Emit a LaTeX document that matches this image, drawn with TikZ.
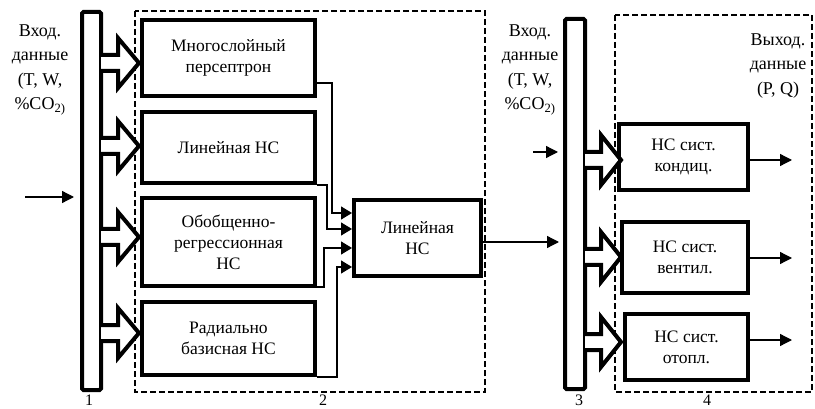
\documentclass[tikz,border=0pt]{standalone}
\usepackage{fontspec}
\setmainfont{Liberation Serif}
\usetikzlibrary{arrows.meta,calc}
\begin{document}
\begin{tikzpicture}[x=1pt,y=-1pt,
  txt/.style={font=\fontsize{18}{24.5}\selectfont, align=center, inner sep=0pt},
  box/.style={draw, line width=4pt, fill=white, align=center, inner sep=0pt,
    font=\fontsize{17.5}{21}\selectfont},
  bus/.style={draw, line width=4pt, fill=white, rounded corners=1.5pt, inner sep=0pt},
  grp/.style={draw, line width=2pt, dash pattern=on 6pt off 3pt},
  fat/.style={draw, line width=4pt, fill=white, line join=miter, miter limit=20},
  conn/.style={line width=1.3pt},
  tip/.style={conn, -{Triangle[length=11pt,width=13pt]}},
  otip/.style={conn, -{Triangle[length=12pt,width=12pt]}}
]
\useasboundingbox (0,0) rectangle (815,409);
% group frames
\draw[grp] (135,11) rectangle (485,392);
\draw[grp] (615,15) rectangle (812,392);
% buses
\node[bus, minimum width=19pt, minimum height=378pt] (bus1) at (91.5,201) {};
\node[bus, minimum width=20pt, minimum height=370pt] (bus3) at (575,204) {};
% boxes module 2
\node[box, minimum width=173pt, minimum height=76pt] (A) at (228.5,58) {Многослойный\\персептрон};
\node[box, minimum width=173pt, minimum height=71pt] (B) at (228.5,147.5) {Линейная НС};
\node[box, minimum width=173pt, minimum height=88pt] (C) at (228.5,242) {Обобщенно-\\регрессионная\\НС};
\node[box, minimum width=173pt, minimum height=73pt] (D) at (228.5,338.5) {Радиально\\базисная НС};
\node[box, minimum width=127pt, minimum height=76pt] (E) at (417.5,238) {Линейная\\НС};
% boxes module 4
\node[box, minimum width=129pt, minimum height=66pt] (K) at (683.5,157) {НС сист.\\кондиц.};
\node[box, minimum width=126pt, minimum height=71pt] (V) at (685,257.5) {НС сист.\\вентил.};
\node[box, minimum width=123pt, minimum height=66pt] (O) at (686.5,347) {НС сист.\\отопл.};
% fat arrows from bus 1
\foreach \yc in {63,146,237,333}{
  \draw[fat] (101,\yc-8) -- (118,\yc-8) -- (118,\yc-25) -- (139,\yc) -- (118,\yc+25) -- (118,\yc+8) -- (101,\yc+8);
}
% fat arrows from bus 3
\foreach \yc in {160,257,342}{
  \draw[fat] (585,\yc-8) -- (601,\yc-8) -- (601,\yc-25) -- (621,\yc) -- (601,\yc+25) -- (601,\yc+8) -- (585,\yc+8);
}
% connectors to E
\draw[tip] (A.east |- 0,83) -| (332,213) -- (E.west |- 0,213);
\draw[tip] (B.east |- 0,185) -| (327,229) -- (E.west |- 0,229);
\draw[tip] (C.east |- 0,287) -| (324,248) -- (E.west |- 0,248);
\draw[tip] (D.east |- 0,377) -| (337,267) -- (E.west |- 0,267);
% E to bus 3
\coordinate (e3) at (559,242);
\draw[otip] (E.east |- 0,242) -- (e3);
% inputs
\coordinate (in1s) at (25,197);
\coordinate (in1e) at (74,197);
\draw[otip] (in1s) -- (in1e);
\coordinate (in3s) at (533,152);
\coordinate (in3e) at (558,152);
\draw[otip] (in3s) -- (in3e);
% outputs
\coordinate (oK) at (792,160);
\coordinate (oV) at (792,258);
\coordinate (oO) at (792,340);
\draw[otip] (K.east |- oK) -- (oK);
\draw[otip] (V.east |- oV) -- (oV);
\draw[otip] (O.east |- oO) -- (oO);
% labels
\node[txt] (lin1) at (40,70) {Вход.\\данные\\(T, W,\\\%CO\textsubscript{2)}};
\node[txt] (lin3) at (530,70) {Вход.\\данные\\(T, W,\\\%CO\textsubscript{2)}};
\node[txt] (lout) at (778,66) {Выход.\\данные\\(P, Q)};
\node[txt, font=\fontsize{16}{18}\selectfont] (n1) at (89,400.5) {1};
\node[txt, font=\fontsize{16}{18}\selectfont] (n2) at (323,400.5) {2};
\node[txt, font=\fontsize{16}{18}\selectfont] (n3) at (579,400.5) {3};
\node[txt, font=\fontsize{16}{18}\selectfont] (n4) at (707,400.5) {4};
\end{tikzpicture}
\end{document}
